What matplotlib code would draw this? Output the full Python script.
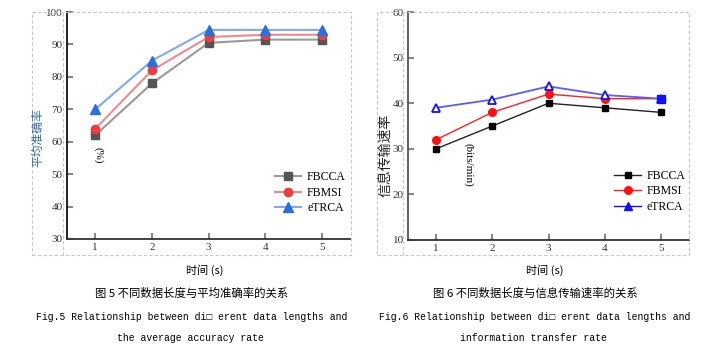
import matplotlib
matplotlib.use("Agg")
import matplotlib.pyplot as plt
from matplotlib.lines import Line2D

# 数据
tiempos = [1, 2, 3, 4, 5]
acc_fbcca = [62, 78, 90.5, 91.5, 91.5]
acc_fbmsi = [64, 82, 92.3, 93, 93]
acc_etrca = [70, 85, 94.5, 94.5, 94.5]
itr_fbcca = [30, 35, 40, 39, 38]
itr_fbmsi = [32, 38, 42, 41, 41]
itr_etrca = [39, 40.8, 43.7, 41.8, 41]
nombres = ["FBCCA", "FBMSI", "eTRCA"]

serif = ["Liberation Serif", "DejaVu Serif"]
cjk = ["Noto Sans CJK SC", "DejaVu Sans"]
mono = ["Liberation Mono", "Noto Sans CJK SC", "DejaVu Sans Mono"]

fig = plt.figure(figsize=(7.17, 3.55), dpi=100)

def marco(x0, x1, xin):
    # borde punteado alrededor de cada grafico
    y0, y1 = 0.282, 0.966
    kw = dict(color="#c8c8c8", lw=0.8, ls=(0, (3, 2)), transform=fig.transFigure)
    fig.add_artist(Line2D([x0, x1, x1, x0, x0], [y0, y0, y1, y1, y0], **kw))
    fig.add_artist(Line2D([xin, xin], [y0, y1], **kw))

marco(0.0446, 0.489, 0.0879)
marco(0.526, 0.961, 0.562)

def ejes(pos, ylim, yticks, spine_izq):
    ax = fig.add_axes(pos)
    ax.set_xlim(0.5, 5.5)
    ax.set_ylim(*ylim)
    ax.set_yticks(yticks)
    ax.set_xticks(tiempos)
    ax.spines["top"].set_visible(False)
    ax.spines["right"].set_visible(False)
    ax.spines["left"].set_color(spine_izq)
    ax.spines["left"].set_linewidth(1.3)
    ax.spines["bottom"].set_color("#333333")
    ax.spines["bottom"].set_linewidth(1.3)
    ax.tick_params(direction="in", length=4, width=1.5, color="#888888",
                   labelsize=8, labelcolor="#333333", pad=3)
    for t in ax.get_xticklabels() + ax.get_yticklabels():
        t.set_family(serif)
    ax.patch.set_alpha(0)
    return ax

# Figura 5
ax1 = ejes([0.0934, 0.327, 0.395, 0.639], (30, 100), range(30, 101, 10), "#111111")
ax1.plot(tiempos, acc_fbcca, color="#999999", lw=1.5, marker="s", ms=5.5,
         mfc="#555555", mec="#555555", label=nombres[0])
ax1.plot(tiempos, acc_fbmsi, color="#f28a8a", lw=1.5, marker="o", ms=6,
         mfc="#f03c3c", mec="#f03c3c", label=nombres[1])
ax1.plot(tiempos, acc_etrca, color="#80aaf0", lw=1.5, marker="^", ms=6.5,
         mfc="#2a6fdb", mec="#2a6fdb", label=nombres[2])
ax1.legend(loc="center", bbox_to_anchor=(0.86, 0.203), frameon=False,
           prop={"family": serif, "size": 8.5}, handlelength=2.2,
           handletextpad=0.5, labelspacing=0.3, borderpad=0)

# Figura 6
ax2 = ejes([0.569, 0.324, 0.392, 0.642], (10, 60), range(10, 61, 10), "#555555")
ax2.plot(tiempos, itr_fbcca, color="#222222", lw=1, marker="s", ms=4.5,
         mfc="black", mec="black", label=nombres[0])
ax2.plot(tiempos, itr_fbmsi, color="#ff2020", lw=1, marker="o", ms=5.5,
         mfc="#ff1010", mec="#ff1010", label=nombres[1])
ax2.plot(tiempos, itr_etrca, color="#5a5aff", lw=1.3, marker="^", ms=6,
         mfc="white", mec="#1010ff", mew=1.3)
ax2.plot(tiempos[-1:], itr_etrca[-1:], ls="none", marker="s", ms=5.5,
         mfc="#1010ff", mec="#1010ff")
ax2.plot([], [], color="#1010ff", lw=1, marker="^", ms=6, mfc="#1010ff",
         mec="#1010ff", label=nombres[2])
ax2.legend(loc="center", bbox_to_anchor=(0.86, 0.214), frameon=False,
           prop={"family": serif, "size": 8.5}, handlelength=2.3,
           handletextpad=0.4, labelspacing=0.3, borderpad=0)

# etiquetas de ejes
fig.text(38 / 717, 1 - 138 / 355, "平均准确率", rotation=90, ha="center",
         va="center", family=cjk, fontsize=8.5, color="#3b6a9c")
fig.text(98 / 717, 1 - 155 / 355, "(%)", rotation=-90, ha="center",
         va="center", family=serif, fontsize=8, color="black")
fig.text(385 / 717, 1 - 155 / 355, "信息传输速率", rotation=90, ha="center",
         va="center", family=cjk, fontsize=10, color="#222222")
fig.text(468 / 717, 1 - 165 / 355, "(bits/min)", rotation=-90, ha="center",
         va="center", family=serif, fontsize=8, color="black")

fig.text(205 / 717, 1 - 270 / 355, "时间 (s)", ha="center", va="center",
         family=cjk, fontsize=8)
fig.text(545 / 717, 1 - 270 / 355, "时间 (s)", ha="center", va="center",
         family=cjk, fontsize=8)

# titulos
fig.text(192 / 717, 1 - 293 / 355, "图 5 不同数据长度与平均准确率的关系",
         ha="center", va="center", family=cjk, fontsize=8.2)
fig.text(535 / 717, 1 - 293 / 355, "图 6 不同数据长度与信息传输速率的关系",
         ha="center", va="center", family=cjk, fontsize=8.2)
fig.text(192 / 717, 1 - 317 / 355,
         "Fig.5 Relationship between di\u25a1 erent data lengths and",
         ha="center", va="center", family=mono, fontsize=7.0)
fig.text(535 / 717, 1 - 317 / 355,
         "Fig.6 Relationship between di\u25a1 erent data lengths and",
         ha="center", va="center", family=mono, fontsize=7.0)
fig.text(190 / 717, 1 - 338 / 355, "the average accuracy rate",
         ha="center", va="center", family=mono, fontsize=7.0)
fig.text(533 / 717, 1 - 338 / 355, "information transfer rate",
         ha="center", va="center", family=mono, fontsize=7.0)

fig.savefig("out.png", dpi=100)
